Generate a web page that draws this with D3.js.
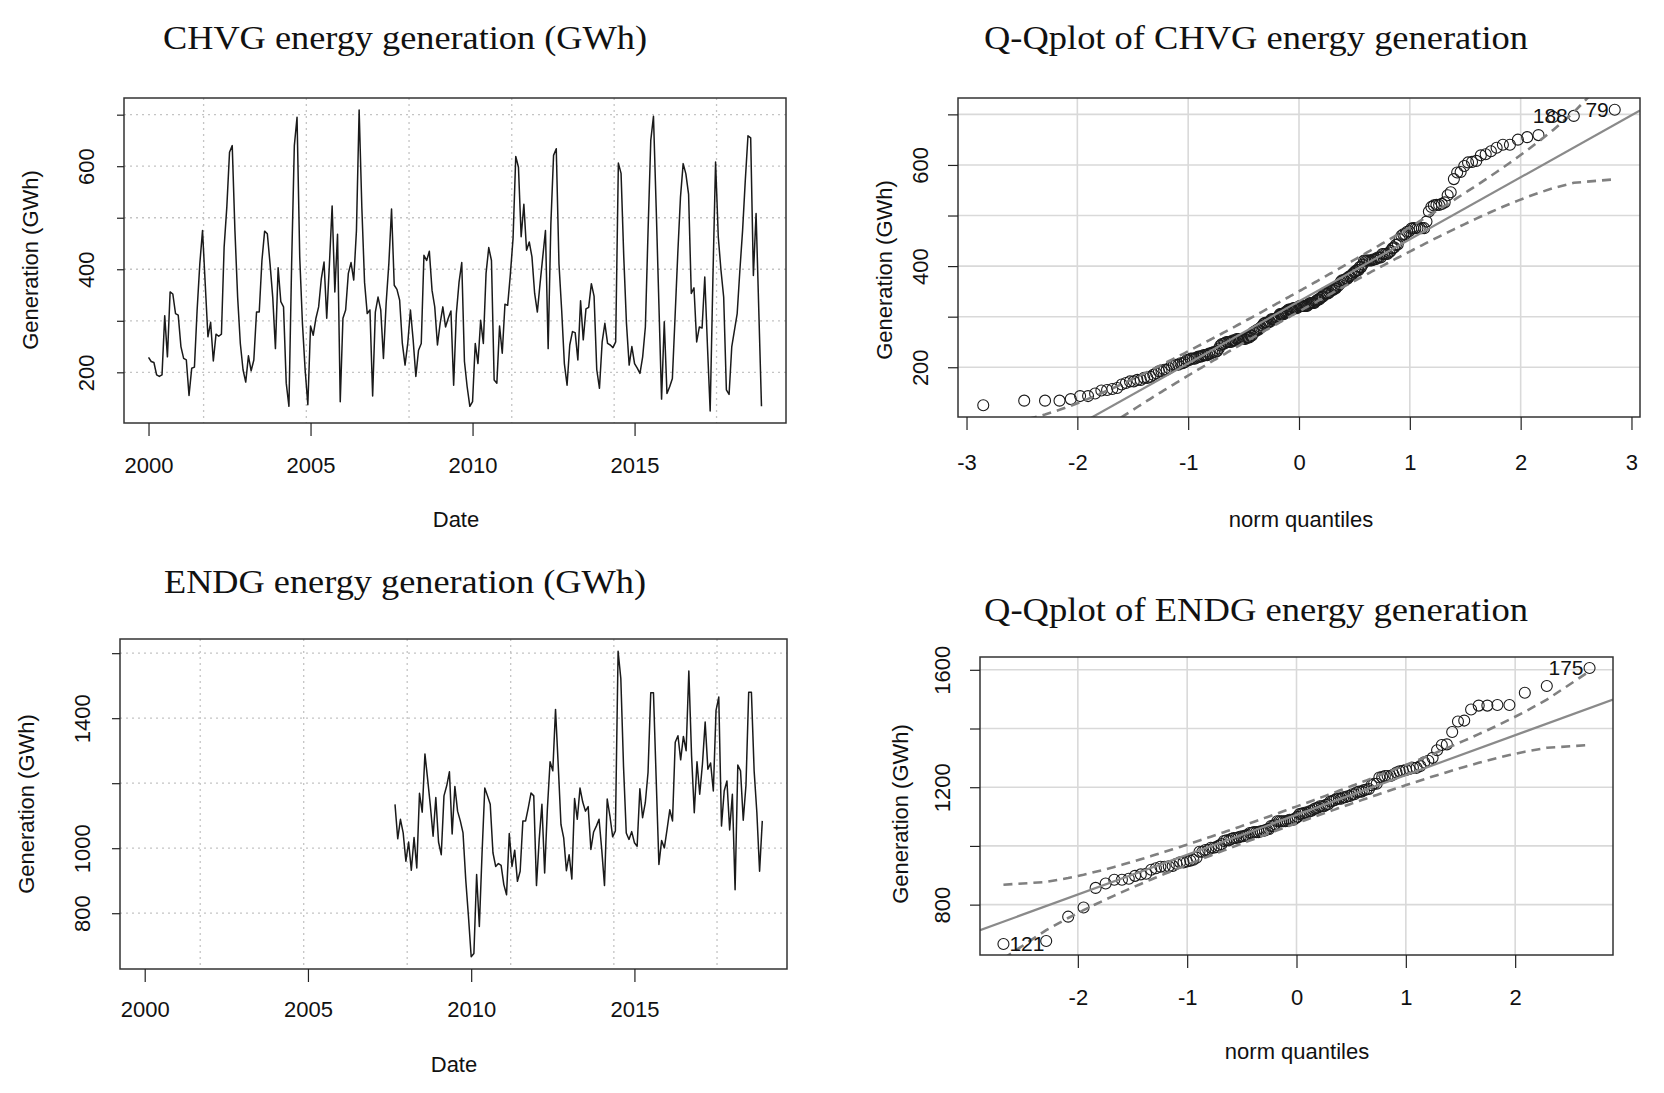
<!DOCTYPE html>
<html>
<head>
<meta charset="utf-8">
<script src="https://cdn.jsdelivr.net/npm/d3@7"></script>
<style>
  body { margin: 0; background: #fff; }
  text { font-family: "Liberation Sans", Arial, sans-serif; fill: #111; }
  .title { font-family: "Liberation Serif", "Times New Roman", serif; font-size: 33px; }
</style>
</head>
<body>
<svg id="chart" width="1664" height="1093"></svg>
<script>

// monthly generation (GWh), Jan 2000 .. Dec 2018
const startYear = 2000;
const chvg = [
  229,221,219,195,192,195,310,230,356,352,314,311,
  250,227,224,155,208,210,321,411,475,372,269,297,
  222,274,270,274,443,521,627,640,475,346,256,205,
  181,232,203,224,317,317,417,474,469,411,346,246,
  403,337,327,179,134,411,640,695,424,295,205,137,
  290,272,305,327,382,414,305,411,523,356,468,143,
  305,321,392,413,379,475,709,520,375,314,321,154,
  317,346,321,227,334,411,517,369,361,340,256,214,
  256,321,263,192,243,256,427,417,435,359,327,253,
  295,327,288,305,319,175,314,375,413,221,172,134,
  143,256,217,301,256,392,442,417,185,179,290,237,
  332,330,390,460,619,598,463,526,437,453,424,353,
  317,372,424,475,246,488,621,634,411,321,217,175,
  253,279,277,224,339,263,323,326,372,348,205,169,
  259,295,256,253,248,259,606,586,424,295,214,250,
  217,208,198,230,288,475,650,697,521,334,148,298,
  159,172,188,308,430,540,605,585,546,353,364,259,
  288,286,385,250,125,380,608,463,398,346,166,157,
  250,282,314,398,475,572,659,655,388,508,321,134
];

// ENDG starts Sep 2007 (month index 92)
const endgStart = 92;
const endg = [
  1135,1029,1089,1047,960,1019,932,1033,939,1169,1111,1290,
  1212,1130,1037,1156,1019,980,1161,1192,1235,1044,1190,1114,
  1084,1047,903,790,666,676,919,759,986,1185,1161,1135,
  986,944,953,947,888,857,1045,944,994,898,929,1084,
  1084,1125,1170,1161,885,1027,1135,924,1120,1266,1238,1427,
  1254,1073,1032,931,980,905,1153,1089,1185,1142,1114,1128,
  996,1050,1068,1089,994,885,1151,1099,1035,1053,1606,1522,
  1250,1047,1027,1051,1017,1006,1183,1094,1140,1233,1478,1478,
  1212,950,1024,1001,1058,1118,1084,1326,1346,1272,1344,1300,
  1545,1285,1109,1266,1166,1259,1388,1243,1262,1176,1424,1465,
  1068,1176,1207,1056,1166,872,1256,1238,1086,1194,1480,1480,
  1238,1110,929,1084
];

// axis ticks / labels
const yearTicks = [2000, 2005, 2010, 2015];
const gridYears = [2001.7, 2004.87, 2008.04, 2011.21, 2014.37, 2017.53];
const chvgTicks = [200, 300, 400, 500, 600, 700];
const chvgLabels = [200, 400, 600];
const endgTicks = [800, 1000, 1200, 1400, 1600];
const endgTsLabels = [800, 1000, 1400];
const endgQqLabels = [800, 1200, 1600];
const qqTicksChvg = [-3, -2, -1, 0, 1, 2, 3];
const qqTicksEndg = [-2, -1, 0, 1, 2];
const qqGrid = [-2, -1, 0, 1, 2];
const chvgIds = [79, 188];
const endgIds = [175, 121];

const svg = d3.select("#chart");

// R style: pad the data range by 4% each side
function pad(ext) {
  const d = (ext[1] - ext[0]) * 0.04;
  return [ext[0] - d, ext[1] + d];
}

// normal quantile (Acklam)
function qnorm(p) {
  const a = [-39.69683028665376, 220.9460984245205, -275.9285104469687, 138.3577518672690, -30.66479806614716, 2.506628277459239];
  const b = [-54.47609879822406, 161.5858368580409, -155.6989798598866, 66.80131188771972, -13.28068155288572];
  const c = [-0.007784894002430293, -0.3223964580411365, -2.400758277161838, -2.549732539343734, 4.374664141464968, 2.938163982698783];
  const d = [0.007784695709041462, 0.3224671290700398, 2.445134137142996, 3.754408661907416];
  const pl = 0.02425;
  let q, r;
  if (p < pl) {
    q = Math.sqrt(-2 * Math.log(p));
    return (((((c[0]*q+c[1])*q+c[2])*q+c[3])*q+c[4])*q+c[5]) / ((((d[0]*q+d[1])*q+d[2])*q+d[3])*q+1);
  }
  if (p > 1 - pl) {
    q = Math.sqrt(-2 * Math.log(1 - p));
    return -(((((c[0]*q+c[1])*q+c[2])*q+c[3])*q+c[4])*q+c[5]) / ((((d[0]*q+d[1])*q+d[2])*q+d[3])*q+1);
  }
  q = p - 0.5; r = q * q;
  return (((((a[0]*r+a[1])*r+a[2])*r+a[3])*r+a[4])*r+a[5])*q / (((((b[0]*r+b[1])*r+b[2])*r+b[3])*r+b[4])*r+1);
}
const dnorm = z => Math.exp(-z * z / 2) / Math.sqrt(2 * Math.PI);

function title(txt, x, y, len) {
  svg.append("text").attr("class", "title")
    .attr("x", x).attr("y", y)
    .attr("textLength", len).attr("lengthAdjust", "spacingAndGlyphs")
    .text(txt);
}

// draws bottom + left axes with R-like rotated y labels
function axes(g, p, x, y, xt, yt, ylab) {
  const ax = g.append("g")
    .attr("transform", `translate(0,${p.y1})`)
    .call(d3.axisBottom(x).tickValues(xt).tickFormat(d => d).tickSize(13).tickPadding(p.xPad));
  const ay = g.append("g")
    .attr("transform", `translate(${p.x0},0)`)
    .call(d3.axisLeft(y).tickValues(yt).tickSize(p.yTick)
      .tickFormat(d => ylab.includes(d) ? d : ""));
  [ax, ay].forEach(a => {
    a.select(".domain").remove();
    a.attr("font-size", 22).attr("font-family", null);
    a.selectAll("line").attr("stroke", "#222").attr("stroke-width", 1.2);
    a.selectAll("text").attr("fill", "#111");
  });
  ay.selectAll("text")
    .attr("x", 0).attr("y", -30).attr("dy", 0)
    .attr("text-anchor", "middle")
    .attr("transform", "rotate(-90)");
}

function labels(g, p, xlab) {
  g.append("text").attr("x", p.xl[0]).attr("y", p.xl[1])
    .attr("text-anchor", "middle").attr("font-size", 22).text(xlab);
  g.append("text")
    .attr("transform", `translate(${p.yl[0]},${p.yl[1]}) rotate(-90)`)
    .attr("text-anchor", "middle").attr("font-size", 22).text("Generation (GWh)");
}

function box(g, p) {
  g.append("rect").attr("x", p.x0).attr("y", p.y0)
    .attr("width", p.x1 - p.x0).attr("height", p.y1 - p.y0)
    .attr("fill", "none").attr("stroke", "#333").attr("stroke-width", 1.5);
}

function tsPanel(p) {
  const g = svg.append("g");
  const pts = p.values.map((v, i) => ({ t: startYear + (p.start + i) / 12, v: v }));
  const x = d3.scaleLinear().domain(pad([startYear, startYear + 227 / 12])).range([p.x0, p.x1]);
  const y = d3.scaleLinear().domain(pad(d3.extent(p.values))).range([p.y1, p.y0]);

  g.selectAll(".hg").data(p.ticks).join("line")
    .attr("x1", p.x0).attr("x2", p.x1)
    .attr("y1", d => y(d)).attr("y2", d => y(d))
    .attr("stroke", "#c4c4c4").attr("stroke-width", 1.3).attr("stroke-dasharray", "2,4");
  g.selectAll(".vg").data(gridYears).join("line")
    .attr("x1", d => x(d)).attr("x2", d => x(d))
    .attr("y1", p.y0).attr("y2", p.y1)
    .attr("stroke", "#c4c4c4").attr("stroke-width", 1.3).attr("stroke-dasharray", "2,4");

  g.append("path").datum(pts)
    .attr("d", d3.line().x(d => x(d.t)).y(d => y(d.v)))
    .attr("fill", "none").attr("stroke", "#1a1a1a").attr("stroke-width", 1.5)
    .attr("stroke-linejoin", "round");

  box(g, p);
  axes(g, p, x, y, yearTicks, p.ticks, p.ylabels);
  labels(g, p, "Date");
}

let clipN = 0;
function qqPanel(p) {
  const g = svg.append("g");
  const n = p.values.length;
  const order = d3.range(n).sort((a, b) => p.values[a] - p.values[b]);
  const sorted = order.map(i => p.values[i]);
  const P = d3.range(n).map(i => (i + 0.5) / n);
  const z = P.map(qnorm);
  const x = d3.scaleLinear().domain(pad(d3.extent(z))).range([p.x0, p.x1]);
  const y = d3.scaleLinear().domain(pad(d3.extent(sorted))).range([p.y1, p.y0]);

  // quartile line and pointwise 95% envelope
  const q1 = d3.quantile(sorted, 0.25), q3 = d3.quantile(sorted, 0.75);
  const b = (q3 - q1) / (qnorm(0.75) - qnorm(0.25));
  const a = q1 - b * qnorm(0.25);
  const zz = qnorm(0.975);
  const env = z.map((zi, i) => {
    const se = b / dnorm(zi) * Math.sqrt(P[i] * (1 - P[i]) / n);
    return { z: zi, lo: a + b * zi - zz * se, hi: a + b * zi + zz * se };
  });

  const id = "clip" + (clipN++);
  svg.append("clipPath").attr("id", id).append("rect")
    .attr("x", p.x0).attr("y", p.y0).attr("width", p.x1 - p.x0).attr("height", p.y1 - p.y0);

  g.selectAll(".hg").data(p.ticks).join("line")
    .attr("x1", p.x0).attr("x2", p.x1)
    .attr("y1", d => y(d)).attr("y2", d => y(d))
    .attr("stroke", "#d9d9d9").attr("stroke-width", 1.6);
  g.selectAll(".vg").data(qqGrid).join("line")
    .attr("x1", d => x(d)).attr("x2", d => x(d))
    .attr("y1", p.y0).attr("y2", p.y1)
    .attr("stroke", "#d9d9d9").attr("stroke-width", 1.6);

  g.selectAll("circle").data(sorted).join("circle")
    .attr("cx", (d, i) => x(z[i])).attr("cy", d => y(d)).attr("r", 5.5)
    .attr("fill", "none").attr("stroke", "#1a1a1a").attr("stroke-width", 1.1);

  const lines = g.append("g").attr("clip-path", `url(#${id})`);
  const zr = x.domain();
  lines.append("line")
    .attr("x1", x(zr[0])).attr("y1", y(a + b * zr[0]))
    .attr("x2", x(zr[1])).attr("y2", y(a + b * zr[1]))
    .attr("stroke", "#8a8a8a").attr("stroke-width", 2.2);
  ["lo", "hi"].forEach(k => {
    lines.append("path").datum(env)
      .attr("d", d3.line().x(d => x(d.z)).y(d => y(d[k])))
      .attr("fill", "none").attr("stroke", "#808080").attr("stroke-width", 2.6)
      .attr("stroke-dasharray", "9,6");
  });

  // point ids (observation number counted from Jan 2000)
  p.ids.forEach(obs => {
    const rank = order.indexOf(obs - 1 - p.start);
    const zx = z[rank];
    g.append("text")
      .attr("x", x(zx) + (zx < 0 ? 6 : -6)).attr("y", y(sorted[rank]) + 7)
      .attr("text-anchor", zx < 0 ? "start" : "end")
      .attr("font-size", 21).text(obs);
  });

  box(g, p);
  axes(g, p, x, y, p.xticks, p.ticks, p.ylabels);
  labels(g, p, "norm quantiles");
}

title("CHVG energy generation (GWh)", 163, 49, 484);
title("Q-Qplot of CHVG energy generation", 984, 49, 544);
title("ENDG energy generation (GWh)", 164, 593, 482);
title("Q-Qplot of ENDG energy generation", 984, 621, 544);

tsPanel({ values: chvg, start: 0, x0: 124, x1: 786, y0: 98, y1: 423,
  ticks: chvgTicks, ylabels: chvgLabels, xPad: 21, yTick: 7,
  xl: [456, 527], yl: [38, 260] });

tsPanel({ values: endg, start: endgStart, x0: 120, x1: 787, y0: 639, y1: 969,
  ticks: endgTicks, ylabels: endgTsLabels, xPad: 19, yTick: 8,
  xl: [454, 1072], yl: [34, 804] });

qqPanel({ values: chvg, start: 0, ids: chvgIds, x0: 958, x1: 1640, y0: 98, y1: 417,
  ticks: chvgTicks, ylabels: chvgLabels, xticks: qqTicksChvg, xPad: 24, yTick: 10,
  xl: [1301, 527], yl: [892, 270] });

qqPanel({ values: endg, start: endgStart, ids: endgIds, x0: 980, x1: 1613, y0: 657, y1: 955,
  ticks: endgTicks, ylabels: endgQqLabels, xticks: qqTicksEndg, xPad: 21, yTick: 10,
  xl: [1297, 1059], yl: [908, 814] });

</script>
</body>
</html>
